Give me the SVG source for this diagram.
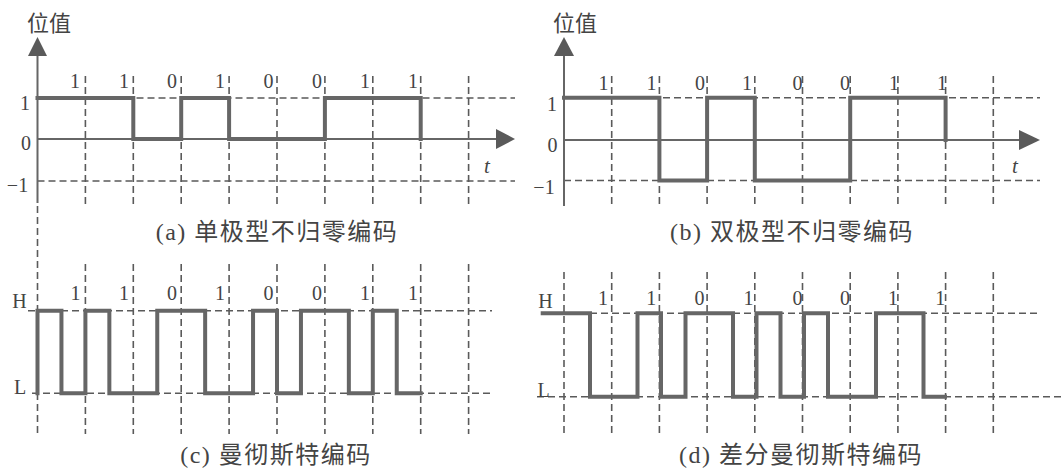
<svg xmlns="http://www.w3.org/2000/svg" width="1061" height="471" viewBox="0 0 1061 471">
<style>
.bg{fill:#ffffff}
.grid{stroke:#5a5a5a;stroke-width:1.6;stroke-dasharray:7 4;fill:none}
.axis{stroke:#666;stroke-width:2;fill:none}
.arrow{fill:#5a5a5a;stroke:none}
.sig{stroke:#666;stroke-width:4;fill:none;stroke-linejoin:miter;stroke-linecap:square}
.num{font-family:"Liberation Serif","Times New Roman",serif;font-size:20px;fill:#444;text-anchor:middle}
.it{font-family:"Liberation Serif","Times New Roman",serif;font-size:21px;font-style:italic;fill:#444}
.cjk{font-family:"Liberation Serif","Noto Sans CJK SC",sans-serif;font-size:22px;fill:#444}
.cap{font-family:"Liberation Serif","Noto Sans CJK SC",serif;font-size:24px;fill:#444;text-anchor:middle;letter-spacing:1.5px}
</style>
<rect class="bg" x="0" y="0" width="1061" height="471"/>

<!-- Panel (a) -->
<g id="panel-a">
  <g id="grid-a">
    <path class="grid" d="M85.4,76V205 M133.3,76V205 M181.2,76V205 M229.1,76V205 M277,76V205 M324.9,76V205 M372.8,76V205 M420.7,76V205 M468.6,76V205"/>
    <path class="grid" d="M37.5,98H515 M37.5,181H515"/>
    <path class="grid" d="M37.5,206V434"/>
  </g>
  <g id="axes-a">
    <path class="axis" d="M37.5,50V203 M37.5,139H500"/>
    <polygon class="arrow" points="37.5,37 28,56 47,56"/>
    <polygon class="arrow" points="515,139 496,129 496,149"/>
  </g>
  <path id="signal-a" class="sig" d="M37.5,98H133.3V139H181.2V98H229.1V139H324.9V98H420.7V139"/>
  <g id="labels-a">
    <text class="cjk" x="27" y="30.5">位值</text>
    <text class="num" x="25" y="110">1</text>
    <text class="num" x="26" y="150">0</text>
    <text class="num" x="17.5" y="192">−1</text>
    <text class="it" x="484" y="173">t</text>
    <text class="num" x="75" y="88">1</text>
    <text class="num" x="124" y="88">1</text>
    <text class="num" x="172" y="88">0</text>
    <text class="num" x="220" y="88">1</text>
    <text class="num" x="268.5" y="88">0</text>
    <text class="num" x="317" y="88">0</text>
    <text class="num" x="365" y="88">1</text>
    <text class="num" x="413" y="88">1</text>
  </g>
  <text class="cap" x="277" y="240">(a) 单极型不归零编码</text>
</g>

<!-- Panel (b) -->
<g id="panel-b">
  <g id="grid-b">
    <path class="grid" d="M611.7,76V206 M659.4,76V206 M707.1,76V206 M754.8,76V206 M802.5,76V206 M850.2,76V206 M897.9,76V206 M945.6,76V206 M993.3,76V206"/>
    <path class="grid" d="M564,97.7H1040 M564,180.5H1040"/>
  </g>
  <g id="axes-b">
    <path class="axis" d="M564,50V206 M564,140H1024"/>
    <polygon class="arrow" points="564,37 554,56 574,56"/>
    <polygon class="arrow" points="1040,140 1019,130 1019,150"/>
  </g>
  <path id="signal-b" class="sig" d="M564,97.7H659.4V180.5H707.1V97.7H754.8V180.5H850.2V97.7H945.6V140"/>
  <g id="labels-b">
    <text class="cjk" x="553" y="31">位值</text>
    <text class="num" x="552" y="111">1</text>
    <text class="num" x="552.5" y="152">0</text>
    <text class="num" x="544" y="194">−1</text>
    <text class="it" x="1012" y="173">t</text>
    <text class="num" x="603.5" y="90">1</text>
    <text class="num" x="651.5" y="90">1</text>
    <text class="num" x="700" y="90">0</text>
    <text class="num" x="747" y="90">1</text>
    <text class="num" x="797.5" y="90">0</text>
    <text class="num" x="845" y="90">0</text>
    <text class="num" x="894" y="90">1</text>
    <text class="num" x="942" y="90">1</text>
  </g>
  <text class="cap" x="792" y="240">(b) 双极型不归零编码</text>
</g>

<!-- Panel (c) -->
<g id="panel-c">
  <g id="grid-c">
    <path class="grid" d="M85.4,264V434 M133.3,264V434 M181.2,264V434 M229.1,264V434 M277,264V434 M324.9,264V434 M372.8,264V434 M420.7,264V434 M468.6,264V434"/>
    <path class="grid" d="M28,310.7H492 M32,393.3H492"/>
  </g>
  <path id="signal-c" class="sig" d="M37.5,393.3V310.7H61.45V393.3H85.4V310.7H109.35V393.3H157.25V310.7H205.15V393.3H253.05V310.7H277V393.3H300.95V310.7H348.85V393.3H372.8V310.7H396.75V393.3H420.7"/>
  <g id="labels-c">
    <text class="num" x="19.5" y="308">H</text>
    <text class="num" x="20" y="394">L</text>
    <text class="num" x="75.5" y="300">1</text>
    <text class="num" x="124" y="300">1</text>
    <text class="num" x="172" y="300">0</text>
    <text class="num" x="220" y="300">1</text>
    <text class="num" x="268.5" y="300">0</text>
    <text class="num" x="317" y="300">0</text>
    <text class="num" x="365" y="300">1</text>
    <text class="num" x="413" y="300">1</text>
  </g>
  <text class="cap" x="276" y="463">(c) 曼彻斯特编码</text>
</g>

<!-- Panel (d) -->
<g id="panel-d">
  <g id="grid-d">
    <path class="grid" d="M564,272V435 M611.7,272V435 M659.4,272V435 M707.1,272V435 M754.8,272V435 M802.5,272V435 M850.2,272V435 M897.9,272V435 M945.6,272V435 M993.3,272V435"/>
    <path class="grid" d="M590,313.3H1040 M537,396.7H1061"/>
  </g>
  <path id="signal-d" class="sig" d="M542.7,313.3H590V396.7H637.5V313.3H661V396.7H685.5V313.3H733V396.7H756.5V313.3H780.5V396.7H804V313.3H828V396.7H876V313.3H923.5V396.7H945"/>
  <g id="labels-d">
    <text class="num" x="545.5" y="308">H</text>
    <text class="num" x="543.5" y="397">L</text>
    <text class="num" x="603" y="305">1</text>
    <text class="num" x="651.3" y="305">1</text>
    <text class="num" x="699.5" y="305">0</text>
    <text class="num" x="748.4" y="305">1</text>
    <text class="num" x="797.5" y="305">0</text>
    <text class="num" x="845" y="305">0</text>
    <text class="num" x="893" y="305">1</text>
    <text class="num" x="940.3" y="305">1</text>
  </g>
  <text class="cap" x="801" y="463">(d) 差分曼彻斯特编码</text>
</g>
</svg>
